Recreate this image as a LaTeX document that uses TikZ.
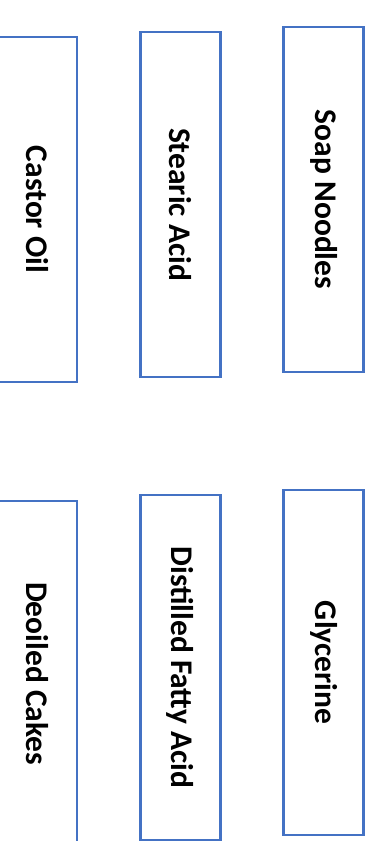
\documentclass[tikz,border=0pt]{standalone}
\usepackage{fontspec}
\setmainfont{Carlito}
\usepackage{xcolor}
\usetikzlibrary{positioning}
\definecolor{boxblue}{HTML}{4472C4}

\begin{document}
\begin{tikzpicture}[x=1pt, y=-1pt,
  prod/.style={draw=boxblue, line width=2.6pt, minimum width=80pt, minimum height=345pt,
    inner sep=0pt, align=center, font=\fontsize{31.5}{36}\selectfont\bfseries}]
\useasboundingbox (0,0) rectangle (372,841);
\def\sp{143.3}
\node[prod] (castor) at (37,209.5) {\rotatebox{-90}{Castor Oil}};
\node[prod] (stearic) at (37+\sp,204.5) {\rotatebox{-90}{Stearic Acid}};
\node[prod] (noodles) at (37+2*\sp,199.5) {\rotatebox{-90}{Soap Noodles}};
\node[prod] (cakes) at (37,673.5) {\rotatebox{-90}{Deoiled Cakes}};
\node[prod] (dfa) at (37+\sp,667.5) {\rotatebox{-90}{Distilled Fatty Acid}};
\node[prod] (glycerine) at (37+2*\sp,662.5) {\rotatebox{-90}{Glycerine}};
\end{tikzpicture}
\end{document}
